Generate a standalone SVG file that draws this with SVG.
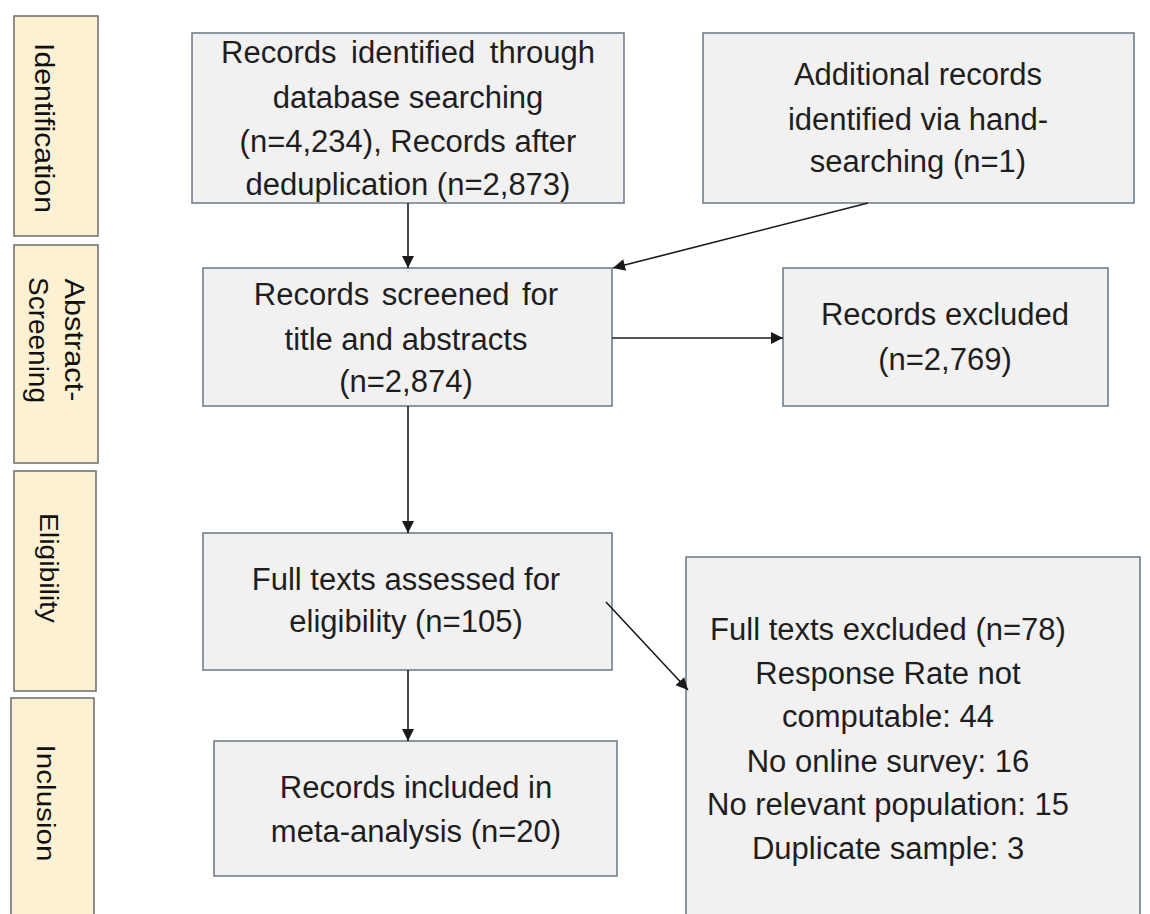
<svg xmlns="http://www.w3.org/2000/svg" width="1150" height="914" viewBox="0 0 1150 914">
  <style>
    .stage rect { fill: #fdf1d3; stroke: #6b6b6b; stroke-width: 1.5; }
    .stage text { font-family: "Liberation Sans", Arial, sans-serif; fill: #111111; text-anchor: middle; }
    .box rect { fill: #f1f1f2; stroke: #6a7785; stroke-width: 1.5; }
    .box text { font-family: "Liberation Sans", Arial, sans-serif; font-size: 31px; fill: #1e1e1e; text-anchor: middle; }
    .conn line { stroke: #1a1a1a; stroke-width: 1.6; fill: none; marker-end: url(#arrow); }
  </style>
  <defs>
    <marker id="arrow" viewBox="0 0 10 10" refX="10" refY="5" markerUnits="userSpaceOnUse" markerWidth="14" markerHeight="12" orient="auto">
      <path d="M0,0 L10,5 L0,10 Z" fill="#1a1a1a"/>
    </marker>
  </defs>
  <rect width="1150" height="914" fill="#ffffff"/>

  <!-- Stage labels (left column, vertical text) -->
  <g id="stage-identification" class="stage">
    <rect x="14" y="16" width="84" height="220"/>
    <text transform="translate(35,128) rotate(90)" font-size="27" textLength="170" lengthAdjust="spacingAndGlyphs">Identification</text>
  </g>
  <g id="stage-screening" class="stage">
    <rect x="14" y="245" width="84" height="218"/>
    <text transform="translate(65,340) rotate(90)" font-size="27" textLength="123" lengthAdjust="spacingAndGlyphs">Abstract-</text>
    <text transform="translate(29,340) rotate(90)" font-size="27" textLength="126" lengthAdjust="spacingAndGlyphs">Screening</text>
  </g>
  <g id="stage-eligibility" class="stage">
    <rect x="14" y="471" width="82" height="220"/>
    <text transform="translate(40,568) rotate(90)" font-size="25" textLength="110" lengthAdjust="spacingAndGlyphs">Eligibility</text>
  </g>
  <g id="stage-inclusion" class="stage">
    <rect x="11" y="698" width="83" height="230"/>
    <text transform="translate(37,803) rotate(90)" font-size="25" textLength="117" lengthAdjust="spacingAndGlyphs">Inclusion</text>
  </g>

  <!-- Flow boxes -->
  <g id="identified" class="box">
    <rect x="192" y="33" width="432" height="170"/>
    <text x="408" y="63" word-spacing="6">Records identified through</text>
    <text x="408" y="108">database searching</text>
    <text x="408" y="152">(n=4,234), Records after</text>
    <text x="408" y="195">deduplication (n=2,873)</text>
  </g>
  <g id="hand-searching" class="box">
    <rect x="703" y="33" width="431" height="170"/>
    <text x="918" y="85">Additional records</text>
    <text x="918" y="130">identified via hand-</text>
    <text x="918" y="172">searching (n=1)</text>
  </g>
  <g id="screened" class="box">
    <rect x="203" y="268" width="409" height="138"/>
    <text x="406" y="305" word-spacing="4">Records screened for</text>
    <text x="406" y="350">title and abstracts</text>
    <text x="406" y="392">(n=2,874)</text>
  </g>
  <g id="excluded" class="box">
    <rect x="783" y="268" width="325" height="138"/>
    <text x="945" y="325">Records excluded</text>
    <text x="945" y="370">(n=2,769)</text>
  </g>
  <g id="full-texts" class="box">
    <rect x="203" y="533" width="409" height="137"/>
    <text x="406" y="590">Full texts assessed for</text>
    <text x="406" y="632">eligibility (n=105)</text>
  </g>
  <g id="included" class="box">
    <rect x="214" y="741" width="403" height="135"/>
    <text x="416" y="798">Records included in</text>
    <text x="416" y="842">meta-analysis (n=20)</text>
  </g>
  <g id="full-texts-excluded" class="box">
    <rect x="686" y="557" width="454" height="370"/>
    <text x="888" y="640" font-size="30">Full texts excluded (n=78)</text>
    <text x="888" y="684" font-size="30">Response Rate not</text>
    <text x="888" y="727" font-size="30">computable: 44</text>
    <text x="888" y="772" font-size="30">No online survey: 16</text>
    <text x="888" y="815" font-size="30">No relevant population: 15</text>
    <text x="888" y="859" font-size="30">Duplicate sample: 3</text>
  </g>

  <!-- Connectors -->
  <g id="connectors" class="conn">
    <line x1="408" y1="203" x2="408" y2="268"/>
    <line x1="868" y1="203" x2="613" y2="268"/>
    <line x1="612" y1="338" x2="783" y2="338"/>
    <line x1="408" y1="406" x2="408" y2="533"/>
    <line x1="606" y1="602" x2="688" y2="690"/>
    <line x1="408" y1="670" x2="408" y2="741"/>
  </g>
</svg>
